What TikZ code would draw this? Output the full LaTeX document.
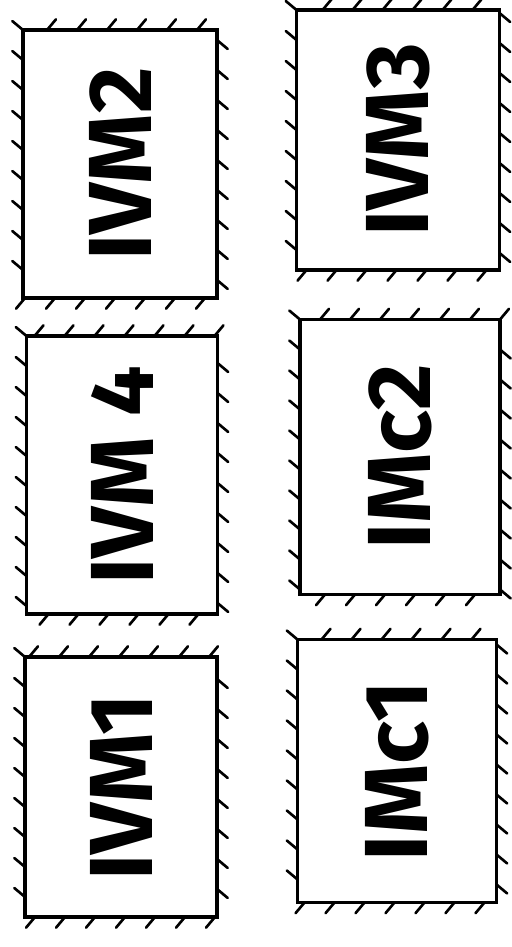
\documentclass[tikz,border=0pt]{standalone}
\usepackage{fontspec}
\setsansfont{Fira Sans}
\usepackage{tikz}
\usetikzlibrary{decorations.pathreplacing}
\tikzset{
  wallbox/.style={rectangle, draw, line width=1.8pt, rotate=90,
    inner sep=0pt, font=\sffamily\bfseries\fontsize{51}{51}\selectfont,
    postaction={decorate, draw, line width=1.5pt, line cap=round,
      decoration={border, segment length=0.6cm, amplitude=-0.28cm, angle=50}}},
}

\begin{document}
\begin{tikzpicture}[x=0.02cm, y=-0.02cm]

    \useasboundingbox (0,0) rectangle (511,947);

    % left column
    \node[wallbox, minimum width=5.36cm, minimum height=3.88cm] (ivm2) at (120,164) {IVM2};
    \node[wallbox, minimum width=5.56cm, minimum height=3.82cm] (ivm4) at (122,475) {IVM 4};
    \node[wallbox, minimum width=5.20cm, minimum height=3.84cm] (ivm1) at (121,787) {IVM1};

    % right column
    \node[wallbox, minimum width=5.20cm, minimum height=4.06cm] (ivm3) at (398,140) {IVM3};
    \node[wallbox, minimum width=5.50cm, minimum height=4.00cm] (imc2) at (400,457) {IMc2};
    \node[wallbox, minimum width=5.26cm, minimum height=3.98cm] (imc1) at (397,771) {IMc1};

  \end{tikzpicture}
\end{document}
